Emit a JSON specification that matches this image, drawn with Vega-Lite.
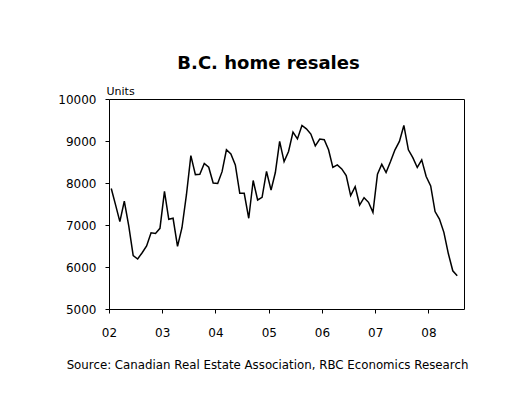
{
  "$schema": "https://vega.github.io/schema/vega-lite/v6.json",
  "autosize": {"type": "none"},
  "padding": {"left": 109, "top": 99, "right": 64, "bottom": 101},
  "width": 355,
  "height": 210,
  "background": "white",
  "title": {
    "text": "B.C. home resales",
    "font": "DejaVu Sans",
    "fontSize": 18,
    "fontWeight": "bold",
    "color": "#000000",
    "anchor": "middle",
    "dx": -18,
    "baseline": "alphabetic",
    "offset": -2
  },
  "data": {
    "values": [
      {"month": "2002-01", "units": 7870}, {"month": "2002-02", "units": 7480}, {"month": "2002-03", "units": 7080},
      {"month": "2002-04", "units": 7570}, {"month": "2002-05", "units": 6980}, {"month": "2002-06", "units": 6270},
      {"month": "2002-07", "units": 6190}, {"month": "2002-08", "units": 6340}, {"month": "2002-09", "units": 6500},
      {"month": "2002-10", "units": 6815}, {"month": "2002-11", "units": 6800}, {"month": "2002-12", "units": 6920},
      {"month": "2003-01", "units": 7800}, {"month": "2003-02", "units": 7135}, {"month": "2003-03", "units": 7160},
      {"month": "2003-04", "units": 6490}, {"month": "2003-05", "units": 6935}, {"month": "2003-06", "units": 7715},
      {"month": "2003-07", "units": 8650}, {"month": "2003-08", "units": 8200}, {"month": "2003-09", "units": 8210},
      {"month": "2003-10", "units": 8465}, {"month": "2003-11", "units": 8375}, {"month": "2003-12", "units": 8000},
      {"month": "2004-01", "units": 7990}, {"month": "2004-02", "units": 8270}, {"month": "2004-03", "units": 8790},
      {"month": "2004-04", "units": 8690}, {"month": "2004-05", "units": 8430}, {"month": "2004-06", "units": 7755},
      {"month": "2004-07", "units": 7755}, {"month": "2004-08", "units": 7160}, {"month": "2004-09", "units": 8060},
      {"month": "2004-10", "units": 7595}, {"month": "2004-11", "units": 7660}, {"month": "2004-12", "units": 8275},
      {"month": "2005-01", "units": 7830}, {"month": "2005-02", "units": 8250}, {"month": "2005-03", "units": 8990},
      {"month": "2005-04", "units": 8510}, {"month": "2005-05", "units": 8750}, {"month": "2005-06", "units": 9210},
      {"month": "2005-07", "units": 9050}, {"month": "2005-08", "units": 9370}, {"month": "2005-09", "units": 9290},
      {"month": "2005-10", "units": 9165}, {"month": "2005-11", "units": 8885}, {"month": "2005-12", "units": 9045},
      {"month": "2006-01", "units": 9030}, {"month": "2006-02", "units": 8790}, {"month": "2006-03", "units": 8370},
      {"month": "2006-04", "units": 8430}, {"month": "2006-05", "units": 8335}, {"month": "2006-06", "units": 8175},
      {"month": "2006-07", "units": 7700}, {"month": "2006-08", "units": 7915}, {"month": "2006-09", "units": 7475},
      {"month": "2006-10", "units": 7650}, {"month": "2006-11", "units": 7540}, {"month": "2006-12", "units": 7300},
      {"month": "2007-01", "units": 8210}, {"month": "2007-02", "units": 8445}, {"month": "2007-03", "units": 8250},
      {"month": "2007-04", "units": 8510}, {"month": "2007-05", "units": 8790}, {"month": "2007-06", "units": 8990},
      {"month": "2007-07", "units": 9370}, {"month": "2007-08", "units": 8790}, {"month": "2007-09", "units": 8605},
      {"month": "2007-10", "units": 8370}, {"month": "2007-11", "units": 8550}, {"month": "2007-12", "units": 8155},
      {"month": "2008-01", "units": 7930}, {"month": "2008-02", "units": 7320}, {"month": "2008-03", "units": 7140},
      {"month": "2008-04", "units": 6825}, {"month": "2008-05", "units": 6320}, {"month": "2008-06", "units": 5910},
      {"month": "2008-07", "units": 5790}
    ]
  },
  "mark": {"type": "line", "color": "#000000", "strokeWidth": 1.5},
  "encoding": {
    "x": {
      "field": "month",
      "type": "temporal",
      "timeUnit": "utcyearmonth",
      "bandPosition": 0.5,
      "scale": {
        "domain": [
          {"year": 2002, "month": 1, "date": 1, "utc": true},
          {"year": 2008, "month": 9, "date": 1, "utc": true}
        ],
        "nice": false
      },
      "axis": {
        "values": [
          {"year": 2002, "month": 1, "date": 1, "utc": true},
          {"year": 2003, "month": 1, "date": 1, "utc": true},
          {"year": 2004, "month": 1, "date": 1, "utc": true},
          {"year": 2005, "month": 1, "date": 1, "utc": true},
          {"year": 2006, "month": 1, "date": 1, "utc": true},
          {"year": 2007, "month": 1, "date": 1, "utc": true},
          {"year": 2008, "month": 1, "date": 1, "utc": true}
        ],
        "labelExpr": "utcFormat(datum.value, '%y')",
        "grid": false,
        "domain": false,
        "ticks": true,
        "tickSize": 4,
        "tickColor": "#000000",
        "labelFont": "DejaVu Sans",
        "labelFontSize": 12,
        "labelColor": "#000000",
        "labelPadding": 14,
        "labelFlush": false,
        "title": "Source: Canadian Real Estate Association, RBC Economics Research",
        "titleFont": "DejaVu Sans",
        "titleFontSize": 11.8,
        "titleFontWeight": "normal",
        "titleColor": "#000000",
        "titleAlign": "center",
        "titleBaseline": "alphabetic",
        "titleX": 158,
        "titleY": 59
      }
    },
    "y": {
      "field": "units",
      "type": "quantitative",
      "scale": {"domain": [5000, 10000], "nice": false, "zero": false},
      "axis": {
        "values": [5000, 6000, 7000, 8000, 9000, 10000],
        "format": "d",
        "grid": false,
        "domain": false,
        "ticks": true,
        "tickSize": 4,
        "tickColor": "#000000",
        "labelFont": "DejaVu Sans",
        "labelFontSize": 12,
        "labelColor": "#000000",
        "labelPadding": 9,
        "title": "Units",
        "titleFont": "DejaVu Sans",
        "titleFontSize": 11,
        "titleFontWeight": "normal",
        "titleColor": "#000000",
        "titleAngle": 0,
        "titleAlign": "left",
        "titleBaseline": "alphabetic",
        "titleX": -3,
        "titleY": -5
      }
    }
  },
  "config": {
    "view": {"stroke": "#000000", "strokeWidth": 1}
  }
}
